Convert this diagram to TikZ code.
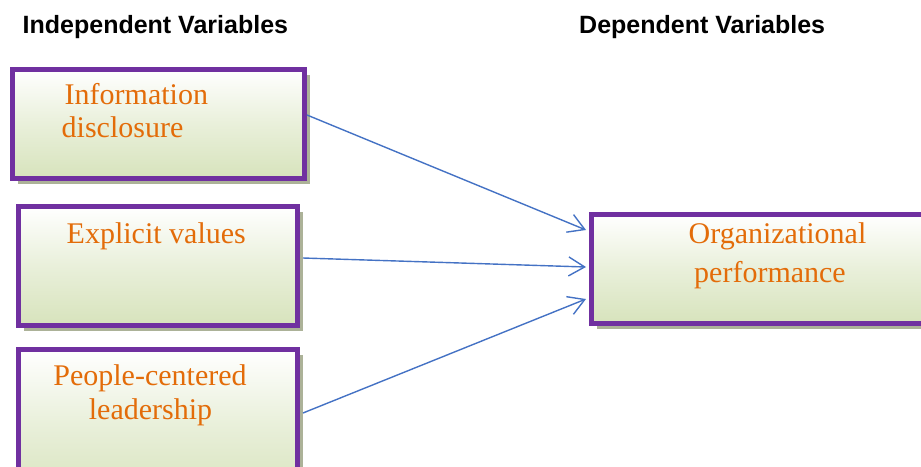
\documentclass[tikz,border=0pt]{standalone}
\usepackage{fontspec}
\setmainfont{Liberation Serif}
\newfontfamily\titlefont{Liberation Sans}
\usetikzlibrary{arrows.meta,shadows,calc}
\definecolor{boxpurple}{RGB}{112,48,160}
\definecolor{boxgreen}{RGB}{215,227,188}
\definecolor{txtorange}{RGB}{227,108,9}
\definecolor{arrowblue}{RGB}{68,114,196}
\definecolor{shadowcol}{RGB}{172,178,152}
\tikzset{
  varbox/.style={draw=boxpurple, line width=5pt, outer sep=2.5pt, inner sep=0pt,
    anchor=north west, top color=white, bottom color=boxgreen, middle color=white!45!boxgreen,
    drop shadow={shadow xshift=5.5pt, shadow yshift=-5.5pt, fill=shadowcol, opacity=1}},
  boxtext/.style={text=txtorange, inner sep=0pt, font=\fontsize{30}{34}\selectfont},
  title/.style={inner sep=0pt, anchor=base west, font=\titlefont\bfseries\fontsize{25}{30}\selectfont},
  link/.style={draw=arrowblue, line width=1.4pt, -{Straight Barb[length=16pt,width=19pt,line width=1.4pt]}}
}
\begin{document}
\begin{tikzpicture}[x=1pt,y=-1pt]
\useasboundingbox (0,0) rectangle (921,466);
\clip (0,0) rectangle (921,466);
\node[title] (ti) at (22.5,33) {Independent Variables};
\node[title] (td) at (579,33) {Dependent Variables};

\node[varbox, minimum width=292pt, minimum height=109pt] (b1) at (10,67) {};
\node[varbox, minimum width=279pt, minimum height=119pt] (b2) at (16,204) {};
\node[varbox, minimum width=279pt, minimum height=150pt] (b3) at (16,347) {};
\node[varbox, minimum width=356pt, minimum height=109pt] (b4) at (589,212) {};

\node[boxtext, anchor=base west] (t1a) at (64.5,104) {Information};
\node[boxtext, anchor=base west] (t1b) at (61.5,137) {disclosure};
\node[boxtext, anchor=base west] (t2) at (66.5,243) {Explicit values};
\node[boxtext, anchor=base] (t3a) at (150,385) {People-centered};
\node[boxtext, anchor=base] (t3b) at (150.5,419) {leadership};
\node[boxtext, anchor=base] (t4a) at (777.5,243) {Organizational};
\node[boxtext, anchor=base] (t4b) at (770,282) {performance};

\draw[link] ([yshift=9pt]b1.east) -- ([xshift=-3pt,yshift=39pt]b4.west);
\draw[link] ([xshift=3pt,yshift=8pt]b2.east) -- ([xshift=-3pt,yshift=2pt]b4.west);
\draw[link] ([xshift=3pt,yshift=-66pt]b3.north east) -- ([xshift=-3pt,yshift=-30pt]b4.west);
\end{tikzpicture}
\end{document}
